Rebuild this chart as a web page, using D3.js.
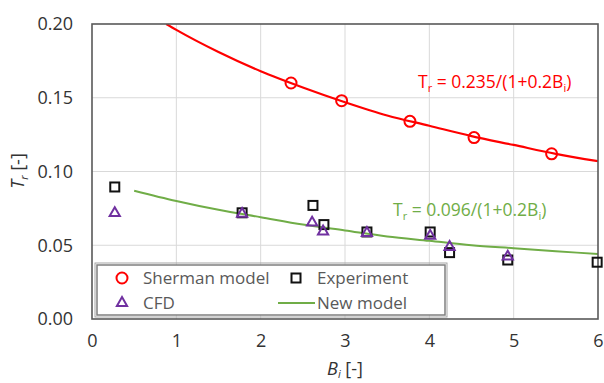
<!DOCTYPE html>
<html>
<head>
<meta charset="utf-8">
<script src="https://cdn.jsdelivr.net/npm/d3@7"></script>
<style>
  body { margin: 0; background: #fff; }
  text { font-family: "Open Sans", sans-serif; }
</style>
</head>
<body>
<div id="chart"></div>
<script>
// Sherman model points
const shermanBi = [2.36, 2.96, 3.77, 4.53, 5.45];
const shermanTr = [0.160, 0.148, 0.134, 0.123, 0.112];

// Experiment
const expBi = [0.27, 1.78, 2.62, 2.75, 3.26, 4.01, 4.24, 4.93, 5.99];
const expTr = [0.0895, 0.072, 0.077, 0.064, 0.059, 0.059, 0.045, 0.040, 0.0385];

// CFD
const cfdBi = [0.27, 1.78, 2.61, 2.74, 3.26, 4.01, 4.24, 4.93];
const cfdTr = [0.0725, 0.072, 0.066, 0.060, 0.059, 0.057, 0.0495, 0.043];

// curves
const shermanCurveBi = [0.88, 1, 1.5, 2, 2.5, 3, 3.5, 4, 4.5, 5, 5.5, 6];
const shermanCurveTr = [0.200, 0.196, 0.181, 0.168, 0.157, 0.147, 0.138, 0.131, 0.124, 0.118, 0.112, 0.107];
const newCurveBi = [0.5, 1, 1.5, 2, 2.5, 3, 3.5, 4, 4.5, 5, 5.5, 6];
const newCurveTr = [0.087, 0.080, 0.074, 0.069, 0.064, 0.060, 0.056, 0.053, 0.050, 0.048, 0.046, 0.044];

const xTicks = [0, 1, 2, 3, 4, 5, 6];
const yTicks = [0, 0.05, 0.10, 0.15, 0.20];

const width = 604, height = 383;
const margin = { top: 24, right: 6, bottom: 64, left: 92 };
const iw = width - margin.left - margin.right;
const ih = height - margin.top - margin.bottom;

const svg = d3.select("#chart").append("svg")
    .attr("width", width)
    .attr("height", height);

const g = svg.append("g")
    .attr("transform", `translate(${margin.left},${margin.top})`);

const x = d3.scaleLinear().domain([0, 6]).range([0, iw]);
const y = d3.scaleLinear().domain([0, 0.2]).range([ih, 0]);

// grid
g.append("g").selectAll("line")
    .data(xTicks.slice(1, -1))
    .join("line")
    .attr("x1", d => x(d)).attr("x2", d => x(d))
    .attr("y1", 0).attr("y2", ih)
    .attr("stroke", "#d9d9d9").attr("stroke-width", 1);

g.append("g").selectAll("line")
    .data(yTicks.slice(1, -1))
    .join("line")
    .attr("y1", d => y(d)).attr("y2", d => y(d))
    .attr("x1", 0).attr("x2", iw)
    .attr("stroke", "#d9d9d9").attr("stroke-width", 1);

// tick labels
const xAxis = g.append("g")
    .attr("transform", `translate(0,${ih})`)
    .call(d3.axisBottom(x).tickValues(xTicks).tickSize(0).tickPadding(15).tickFormat(d3.format("d")));
const yAxis = g.append("g")
    .call(d3.axisLeft(y).tickValues(yTicks).tickSize(0).tickPadding(19).tickFormat(d3.format(".2f")));
[xAxis, yAxis].forEach(a => {
    a.select(".domain").remove();
    a.selectAll("text")
        .attr("font-family", "'Open Sans', sans-serif")
        .attr("font-size", "18px")
        .attr("fill", "#333");
});

// clip for curves
svg.append("clipPath").attr("id", "clip")
    .append("rect").attr("width", iw).attr("height", ih);

const line = d3.line().x(d => x(d[0])).y(d => y(d[1])).curve(d3.curveMonotoneX);

g.append("path")
    .datum(shermanCurveBi.map((b, i) => [b, shermanCurveTr[i]]))
    .attr("clip-path", "url(#clip)")
    .attr("d", line)
    .attr("fill", "none")
    .attr("stroke", "#ff0000")
    .attr("stroke-width", 2.2);

g.append("path")
    .datum(newCurveBi.map((b, i) => [b, newCurveTr[i]]))
    .attr("d", line)
    .attr("fill", "none")
    .attr("stroke", "#70ad47")
    .attr("stroke-width", 2);

// plot border
g.append("rect")
    .attr("width", iw).attr("height", ih)
    .attr("fill", "none")
    .attr("stroke", "#595959")
    .attr("stroke-width", 1.6);

const purple = "#7030a0";
const triPath = d3.symbol().type(d3.symbolTriangle).size(45);

function square(sel, cx, cy) {
    sel.append("rect")
        .attr("x", cx - 4.5).attr("y", cy - 4.5)
        .attr("width", 9).attr("height", 9)
        .attr("fill", "none").attr("stroke", "#111").attr("stroke-width", 2);
}
function triangle(sel, cx, cy) {
    sel.append("path")
        .attr("d", triPath())
        .attr("transform", `translate(${cx},${cy + 1})`)
        .attr("fill", "none").attr("stroke", purple).attr("stroke-width", 2);
}
function circle(sel, cx, cy) {
    sel.append("circle")
        .attr("cx", cx).attr("cy", cy).attr("r", 5.5)
        .attr("fill", "none").attr("stroke", "#ff0000").attr("stroke-width", 2);
}

// experiment squares
expBi.forEach((b, i) => square(g, x(b), y(expTr[i])));
// CFD triangles
cfdBi.forEach((b, i) => triangle(g, x(b), y(cfdTr[i])));
// Sherman circles
shermanBi.forEach((b, i) => circle(g, x(b), y(shermanTr[i])));

// equations
function equation(tx, ty, coef, color) {
    const t = svg.append("text")
        .attr("x", tx).attr("y", ty)
        .attr("font-size", "17.5px")
        .attr("fill", color);
    t.append("tspan").text("T");
    t.append("tspan").attr("font-size", "11px").attr("dy", 4).text("r");
    t.append("tspan").attr("dy", -4).text(` = ${coef}/(1+0.2B`);
    t.append("tspan").attr("font-size", "11px").attr("dy", 4).text("i");
    t.append("tspan").attr("dy", -4).text(")");
}
equation(418, 88, "0.235", "#ff0000");
equation(393, 216, "0.096", "#70ad47");

// legend
const lg = svg.append("g");
lg.append("rect")
    .attr("x", 97).attr("y", 265).attr("width", 348).attr("height", 50)
    .attr("fill", "#fff").attr("stroke", "#7f7f7f").attr("stroke-width", 1.5);
lg.append("rect")
    .attr("x", 95).attr("y", 263).attr("width", 352).attr("height", 54)
    .attr("fill", "none").attr("stroke", "#a6a6a6").attr("stroke-width", 1);

circle(lg, 122, 278);
square(lg, 296, 278);
triangle(lg, 122, 302);
lg.append("line")
    .attr("x1", 278).attr("x2", 315).attr("y1", 303).attr("y2", 303)
    .attr("stroke", "#70ad47").attr("stroke-width", 2);

const legendLabels = [["Sherman model", 143, 284], ["Experiment", 317, 284], ["CFD", 143, 309], ["New model", 317, 309]];
legendLabels.forEach(([t, lx, ly]) => {
    lg.append("text").attr("x", lx).attr("y", ly)
        .attr("font-size", "17px").attr("fill", "#595959").text(t);
});

// axis titles
const xt = svg.append("text")
    .attr("x", 345).attr("y", 375)
    .attr("text-anchor", "middle")
    .attr("font-size", "18px").attr("fill", "#333");
xt.append("tspan").attr("font-style", "italic").text("B");
xt.append("tspan").attr("font-style", "italic").attr("font-size", "11px").attr("dy", 3).text("i");
xt.append("tspan").attr("dy", -3).text(" [-]");

const yt = svg.append("text")
    .attr("transform", "translate(24,171) rotate(-90)")
    .attr("text-anchor", "middle")
    .attr("font-size", "18px").attr("fill", "#333");
yt.append("tspan").attr("font-style", "italic").text("T");
yt.append("tspan").attr("font-style", "italic").attr("font-size", "11px").attr("dy", 4).text("r");
yt.append("tspan").attr("dy", -4).text(" [-]");
</script>
</body>
</html>
